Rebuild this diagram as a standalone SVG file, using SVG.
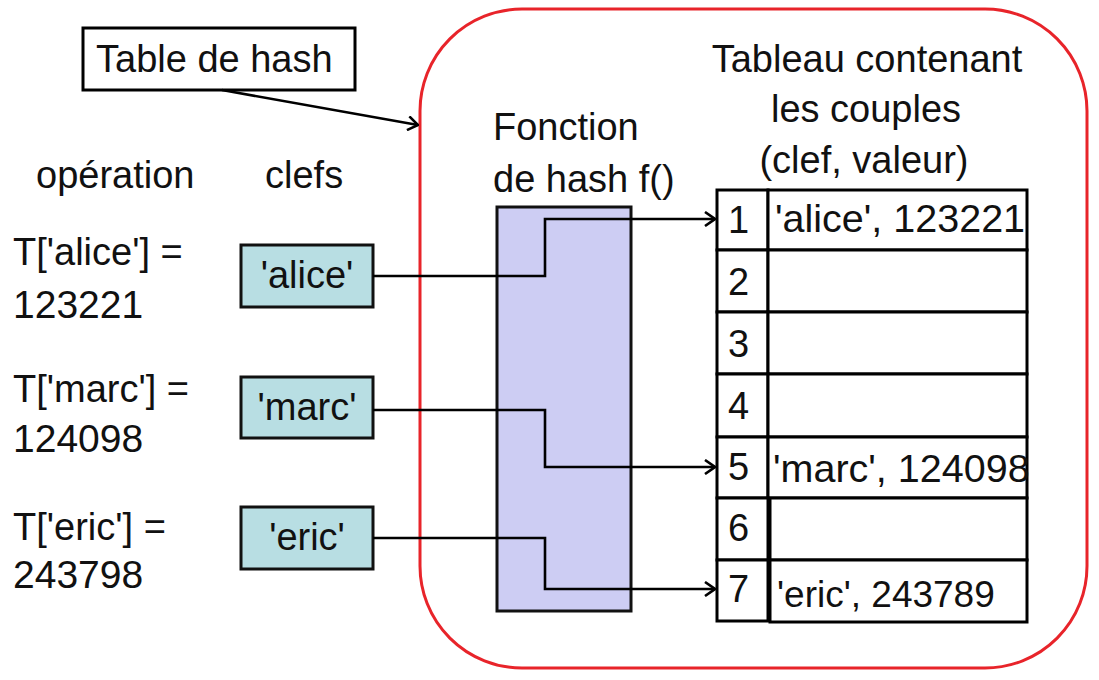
<svg xmlns="http://www.w3.org/2000/svg" width="1099" height="680" viewBox="0 0 1099 680">
<defs>
<style>
text{font-family:"Liberation Sans",Arial,sans-serif;font-size:38px;fill:#111}
.val{font-size:39.5px}
.num{font-size:39px}
.box{fill:#fff;stroke:#000;stroke-width:3}
.key{fill:#b8dee3;stroke:#111;stroke-width:3}
.cell{fill:#fff;stroke:#000;stroke-width:3}
.conn{fill:none;stroke:#000;stroke-width:2.6}
.mid{text-anchor:middle}
</style>
<marker id="arr" viewBox="0 0 12 16" refX="11" refY="8" markerWidth="12" markerHeight="16" markerUnits="userSpaceOnUse" orient="auto">
<path d="M1,1 L11,8 L1,15" fill="none" stroke="#000" stroke-width="2.6"/>
</marker>
</defs>
<rect width="1099" height="680" fill="#fff"/>

<g id="container">
<rect x="420" y="9" width="667" height="659" rx="102" ry="102" fill="none" stroke="#e8242a" stroke-width="3"/>
</g>

<g id="label-table-de-hash">
<rect class="box" x="83" y="28" width="272" height="62"/>
<text x="96" y="72">Table de hash</text>
</g>

<g id="headers">
<text x="36" y="188">opération</text>
<text x="265" y="188">clefs</text>
<text x="493" y="140">Fonction</text>
<text x="493" y="192">de hash f()</text>
<text class="mid" x="867" y="72">Tableau contenant</text>
<text class="mid" x="866" y="122">les couples</text>
<text class="mid" x="864" y="173">(clef, valeur)</text>
</g>

<g id="operations">
<text x="13" y="265">T['alice'] =</text>
<text class="num" x="13" y="318">123221</text>
<text x="13" y="402">T['marc'] =</text>
<text class="num" x="13" y="452">124098</text>
<text x="13" y="540">T['eric'] =</text>
<text class="num" x="13" y="588">243798</text>
</g>

<g id="hash-function">
<rect x="497" y="207" width="134" height="404" fill="#cdcdf3" stroke="#111" stroke-width="3"/>
</g>

<g id="key-alice">
<rect class="key" x="241" y="245" width="132" height="62"/>
<text class="mid" x="307" y="288">'alice'</text>
</g>
<g id="key-marc">
<rect class="key" x="241" y="377" width="132" height="61"/>
<text class="mid" x="307" y="420">'marc'</text>
</g>
<g id="key-eric">
<rect class="key" x="241" y="507" width="132" height="62"/>
<text class="mid" x="307" y="550">'eric'</text>
</g>

<g id="table">
<g id="row-1">
<rect class="cell" x="717" y="190" width="51" height="60"/>
<rect class="cell" x="768" y="190" width="259" height="60"/>
<text x="728" y="233">1</text>
<text class="val" x="775" y="232">'alice', 123221</text>
</g>
<g id="row-2">
<rect class="cell" x="717" y="250" width="51" height="62"/>
<rect class="cell" x="768" y="250" width="259" height="62"/>
<text x="728" y="295">2</text>
</g>
<g id="row-3">
<rect class="cell" x="717" y="312" width="51" height="62"/>
<rect class="cell" x="768" y="312" width="259" height="62"/>
<text x="728" y="357">3</text>
</g>
<g id="row-4">
<rect class="cell" x="717" y="374" width="51" height="63"/>
<rect class="cell" x="768" y="374" width="259" height="63"/>
<text x="728" y="419">4</text>
</g>
<g id="row-5">
<rect class="cell" x="717" y="437" width="51" height="61"/>
<rect class="cell" x="768" y="437" width="259" height="61"/>
<text x="728" y="480">5</text>
<text class="val" x="773" y="482">'marc', 124098</text>
</g>
<g id="row-6">
<rect class="cell" x="717" y="498" width="51" height="62"/>
<rect class="cell" x="770" y="498" width="257" height="62"/>
<text x="728" y="541">6</text>
</g>
<g id="row-7">
<rect class="cell" x="717" y="560" width="51" height="61"/>
<rect class="cell" x="770" y="560" width="257" height="62"/>
<text x="728" y="602">7</text>
<text x="777" y="607" style="font-size:37px">'eric', 243789</text>
</g>
</g>

<g id="connectors">
<line class="conn" x1="222" y1="90" x2="418" y2="125" marker-end="url(#arr)"/>
<polyline class="conn" points="373,276 545,276 545,219 715,219" marker-end="url(#arr)"/>
<polyline class="conn" points="373,410 545,410 545,467 715,467" marker-end="url(#arr)"/>
<polyline class="conn" points="373,538 545,538 545,589 715,589" marker-end="url(#arr)"/>
</g>
</svg>
